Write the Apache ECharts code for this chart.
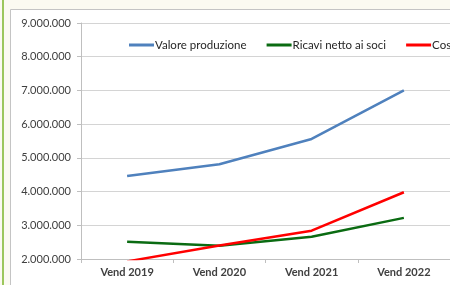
<!DOCTYPE html>
<html><head><meta charset="utf-8">
<script src="https://cdn.jsdelivr.net/npm/echarts@6/dist/echarts.min.js"></script>
<style>html,body{margin:0;padding:0;background:#fbfaf1;}#c{width:450px;height:285px;}</style>
</head><body><div id="c"></div>
<script>
var categories = ['Vend 2019', 'Vend 2020', 'Vend 2021', 'Vend 2022'];
var valoreProduzione = [4460000, 4810000, 5560000, 7000000];
var ricaviNetto = [2510000, 2390000, 2660000, 3220000];
var costi = [1930000, 2400000, 2840000, 3980000];
var seriesNames = ['Valore produzione', 'Ricavi netto ai soci', 'Costi di produzione'];
var yTicks = [2000000, 3000000, 4000000, 5000000, 6000000, 7000000, 8000000, 9000000];

function fmt(v) { return String(v).replace(/\B(?=(\d{3})+(?!\d))/g, '.'); }

var chart = echarts.init(document.getElementById('c'));
var font = 'Lato, "Liberation Sans", sans-serif';
chart.setOption({
  animation: false,
  backgroundColor: '#fbfaf1',
  graphic: [
    { type: 'rect', shape: { x: 2, y: 0, width: 2, height: 285 }, style: { fill: '#9cc75c' }, z: -10 },
    { type: 'rect', shape: { x: 10.5, y: 9.5, width: 460, height: 300 }, style: { fill: '#ffffff', stroke: '#c4c4c4', lineWidth: 1 }, z: -10 }
  ],
  legend: {
    left: 124, top: 34, width: 700, orient: 'horizontal',
    icon: 'rect', itemWidth: 25, itemHeight: 3, itemGap: 20,
    textStyle: { fontFamily: font, fontSize: 11.5, color: '#262626', padding: [0, 0, 0, -4] },
    data: seriesNames
  },
  grid: { left: 81, top: 23, width: 376, height: 236, containLabel: false },
  xAxis: {
    type: 'category', data: categories, boundaryGap: true,
    axisLine: { lineStyle: { color: '#bfbfbf', width: 1 } },
    axisTick: { show: true, length: 4, lineStyle: { color: '#bfbfbf' }, alignWithLabel: false },
    axisLabel: { fontFamily: font, fontSize: 11, fontWeight: 'bold', color: '#404040', margin: 8 }
  },
  yAxis: {
    type: 'value', min: 2000000, max: 9000000, interval: 1000000,
    axisLine: { show: true, lineStyle: { color: '#bfbfbf', width: 1 } },
    axisTick: { show: true, length: 4, lineStyle: { color: '#bfbfbf' } },
    splitLine: { lineStyle: { color: '#d4d4d4', width: 1 } },
    axisLabel: { fontFamily: font, fontSize: 11, color: '#404040', margin: 10,
      formatter: function (v) { return yTicks.indexOf(v) >= 0 ? fmt(v) : ''; } }
  },
  series: [
    { name: seriesNames[0], type: 'line', data: valoreProduzione, showSymbol: false, symbol: 'none', lineStyle: { color: '#4f81bd', width: 2.5 }, itemStyle: { color: '#4f81bd' } },
    { name: seriesNames[1], type: 'line', data: ricaviNetto, showSymbol: false, symbol: 'none', lineStyle: { color: '#0a6b12', width: 2.5 }, itemStyle: { color: '#0a6b12' } },
    { name: seriesNames[2], type: 'line', data: costi, showSymbol: false, symbol: 'none', lineStyle: { color: '#ff0000', width: 2.5 }, itemStyle: { color: '#ff0000' }, z: 3 }
  ]
});
</script></body></html>
